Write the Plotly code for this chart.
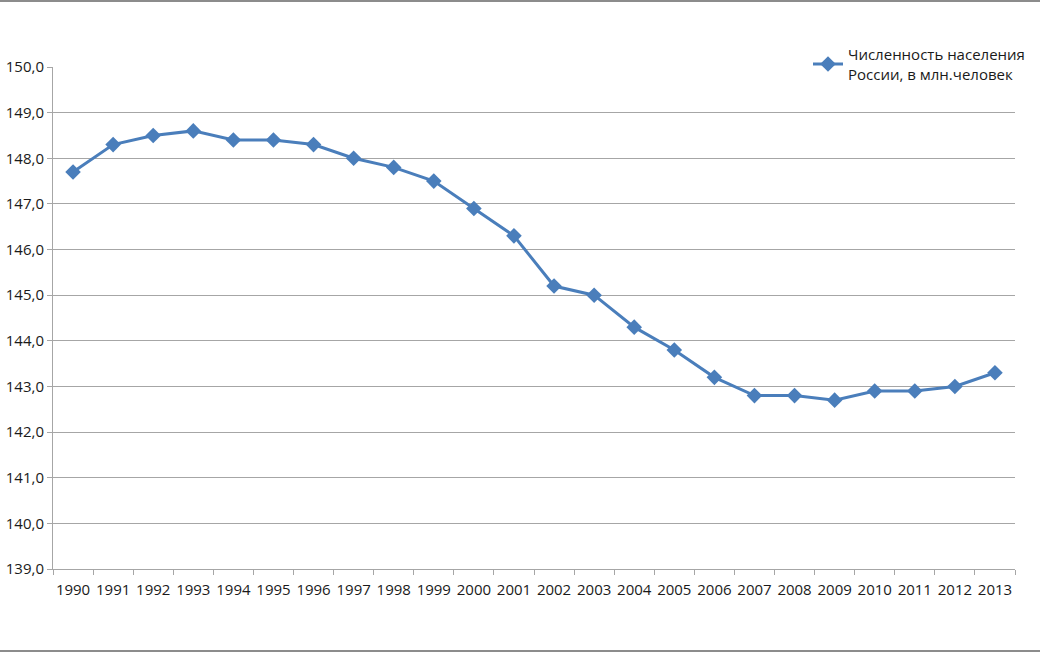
import plotly.graph_objects as go

years = [str(y) for y in range(1990, 2014)]
population = [147.7, 148.3, 148.5, 148.6, 148.4, 148.4, 148.3, 148.0, 147.8, 147.5,
              146.9, 146.3, 145.2, 145.0, 144.3, 143.8, 143.2, 142.8, 142.8, 142.7,
              142.9, 142.9, 143.0, 143.3]
series_name = "Численность населения<br>России, в млн.человек"
y_ticks = [139, 140, 141, 142, 143, 144, 145, 146, 147, 148, 149, 150]

W, H = 1040, 653
L, R, T, B = 53, 25, 67, 84
ph = H - T - B
pw = W - L - R

fig = go.Figure()
fig.add_trace(go.Scatter(
    x=years, y=population, mode="lines+markers", name=series_name,
    line=dict(color="#4A7EBB", width=3),
    marker=dict(symbol="diamond", size=12, color="#4A7EBB"),
))

ff = "Open Sans, Liberation Sans, sans-serif"

fig.update_layout(
    width=W, height=H,
    margin=dict(l=L, r=R, t=T, b=B, autoexpand=False),
    paper_bgcolor="white", plot_bgcolor="white",
    separators=", ",
    font=dict(family=ff, size=15, color="#1a1a1a"),
    showlegend=True,
    legend=dict(x=(808 - L) / pw, y=(H - B - 38) / ph, xanchor="left", yanchor="top",
                font=dict(family=ff, size=15, color="#1a1a1a"),
                bgcolor="rgba(0,0,0,0)", itemwidth=30, tracegroupgap=0),
    xaxis=dict(type="category", range=[-0.5, len(years) - 0.5], showgrid=False,
               showline=True, linecolor="#A6A6A6", linewidth=1,
               ticks="outside", tickson="boundaries", ticklen=5, tickcolor="#A6A6A6",
               ticklabelstandoff=7,
               tickangle=0, tickfont=dict(size=15), automargin=False),
    yaxis=dict(range=[139, 150], tickvals=y_ticks, tickformat=".1f",
               showgrid=True, gridcolor="#A6A6A6", gridwidth=1,
               showline=True, linecolor="#A6A6A6", linewidth=1,
               ticks="outside", ticklen=5, tickcolor="#A6A6A6", zeroline=False,
               tickfont=dict(size=15), automargin=False),
    shapes=[
        dict(type="line", xref="paper", yref="paper", x0=-L / pw, x1=(W - L) / pw,
             y0=(H - B - 1) / ph, y1=(H - B - 1) / ph, line=dict(color="#8C8C8C", width=2)),
        dict(type="line", xref="paper", yref="paper", x0=-L / pw, x1=(W - L) / pw,
             y0=(H - B - 651) / ph, y1=(H - B - 651) / ph, line=dict(color="#8C8C8C", width=2)),
    ],
)

fig.write_html(
    "out.html",
    config={"displayModeBar": False},
    post_script="document.body.style.margin='0';document.body.style.overflow='hidden';",
)
